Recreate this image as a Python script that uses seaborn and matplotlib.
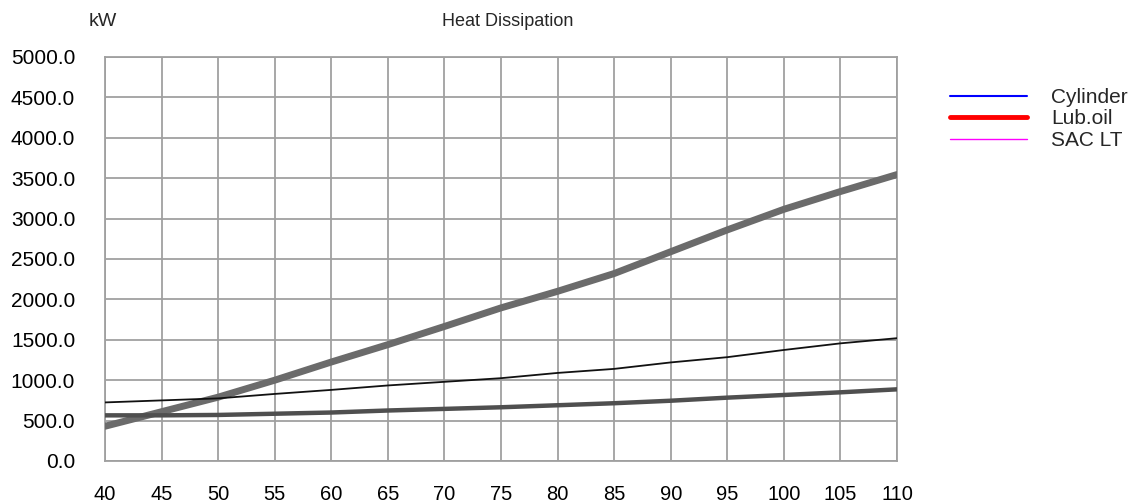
import numpy as np
import pandas as pd
import matplotlib.pyplot as plt
import seaborn as sns
from matplotlib.lines import Line2D

sns.set_style('white')
plt.rcParams['font.family'] = ['Liberation Sans', 'DejaVu Sans']

# engine load in %
load = [40, 45, 50, 55, 60, 65, 70, 75, 80, 85, 90, 95, 100, 105, 110]

# heat dissipation, kW (values as drawn)
upper = [430, 610, 790, 1000, 1225, 1440, 1665, 1895, 2100, 2320, 2590, 2860, 3115, 3335, 3545]
middle = [565, 565, 570, 585, 600, 625, 645, 665, 690, 715, 746, 784, 817, 850, 887]
thin = [725, 750, 775, 830, 880, 935, 980, 1025, 1090, 1140, 1220, 1285, 1374, 1456, 1520]

legend_names = ['Cylinder', 'Lub.oil', 'SAC LT']
legend_colors = ['#0000ff', '#ff0000', '#ff00ff']
legend_widths = [1.5, 3.5, 1.0]

df = pd.DataFrame({'load': load, 'upper': upper, 'middle': middle, 'thin': thin})

fig = plt.figure(figsize=(11.43, 5.03), dpi=100)
ax = fig.add_axes([105/1143, 42/503, 792/1143, 404/503])

sns.lineplot(x='load', y='upper', data=df, ax=ax, color='#6b6b6b', lw=5, zorder=3)
sns.lineplot(x='load', y='middle', data=df, ax=ax, color='#4f4f4f', lw=3.2, zorder=3)
sns.lineplot(x='load', y='thin', data=df, ax=ax, color='#111111', lw=1.3, zorder=4)

ax.set_xlim(40, 110)
ax.set_ylim(0, 5000)
ax.set_xticks(np.arange(40, 111, 5))
ax.set_yticks(np.arange(0, 5001, 500))
ax.set_yticklabels([f'{v:.1f}' for v in np.arange(0, 5001, 500)])
ax.grid(True, color='#a0a0a0', lw=1.3)
for s in ax.spines.values():
    s.set_color('#a0a0a0')
    s.set_linewidth(1.3)
ax.tick_params(axis='both', length=0, colors='black')
ax.tick_params(axis='y', pad=21.5, labelsize=15)
ax.tick_params(axis='x', pad=17, labelsize=14.5)
ax.set_xlabel('')
ax.set_ylabel('')

fig.text(89/1143, 1 - 22/503, 'kW', fontsize=14, ha='left', va='center')
fig.text(508/1143, 1 - 22/503, 'Heat Dissipation', fontsize=13, ha='center', va='center')

handles = [Line2D([], [], color=c, lw=w) for c, w in zip(legend_colors, legend_widths)]
fig.legend(handles, legend_names, loc='upper left', bbox_to_anchor=(950/1143, 1 - 88/503),
           frameon=False, fontsize=15, handlelength=3.7, handletextpad=1.15,
           labelspacing=0.12, borderaxespad=0, borderpad=0)

fig.savefig('out.png', dpi=100)
